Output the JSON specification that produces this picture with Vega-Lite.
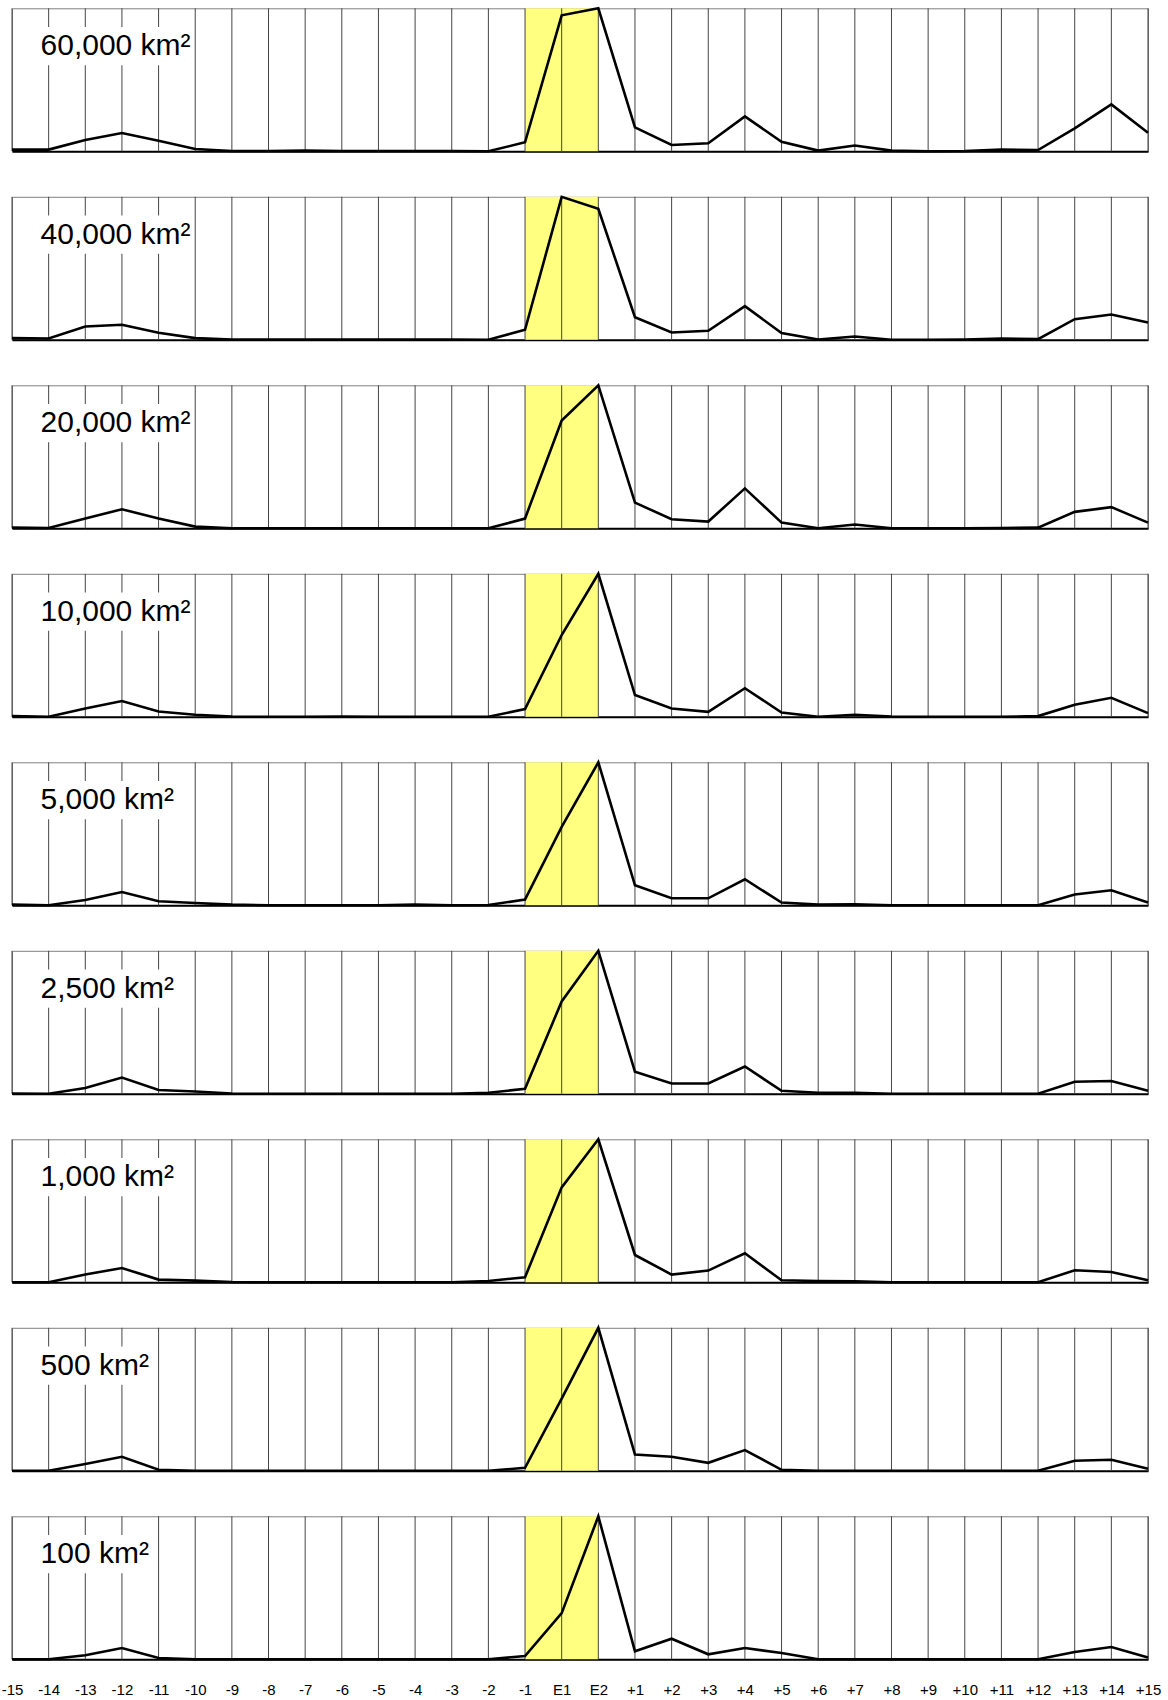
{
"$schema": "https://vega.github.io/schema/vega-lite/v6.json",
"background": "white",
"padding": {"left": 0, "top": 2.3, "right": 5, "bottom": 2},
"bounds": "flush",
"spacing": 45.5,
"data": {"values": [
{"p":"60,000 km²","s":"-15","i":0,"v":1.2},{"p":"60,000 km²","s":"-14","i":1,"v":1.2},{"p":"60,000 km²","s":"-13","i":2,"v":7.9},{"p":"60,000 km²","s":"-12","i":3,"v":12.8},{"p":"60,000 km²","s":"-11","i":4,"v":7.4},{"p":"60,000 km²","s":"-10","i":5,"v":1.6},{"p":"60,000 km²","s":"-9","i":6,"v":0.2},{"p":"60,000 km²","s":"-8","i":7,"v":0.2},{"p":"60,000 km²","s":"-7","i":8,"v":0.5},{"p":"60,000 km²","s":"-6","i":9,"v":0.2},{"p":"60,000 km²","s":"-5","i":10,"v":0.2},{"p":"60,000 km²","s":"-4","i":11,"v":0.2},{"p":"60,000 km²","s":"-3","i":12,"v":0.2},{"p":"60,000 km²","s":"-2","i":13,"v":0},{"p":"60,000 km²","s":"-1","i":14,"v":6.3},{"p":"60,000 km²","s":"E1","i":15,"v":95.1},{"p":"60,000 km²","s":"E2","i":16,"v":100},{"p":"60,000 km²","s":"+1","i":17,"v":16.7},{"p":"60,000 km²","s":"+2","i":18,"v":4.4},{"p":"60,000 km²","s":"+3","i":19,"v":5.6},{"p":"60,000 km²","s":"+4","i":20,"v":24.4},{"p":"60,000 km²","s":"+5","i":21,"v":6.7},{"p":"60,000 km²","s":"+6","i":22,"v":0.5},{"p":"60,000 km²","s":"+7","i":23,"v":4},{"p":"60,000 km²","s":"+8","i":24,"v":0.5},{"p":"60,000 km²","s":"+9","i":25,"v":0},{"p":"60,000 km²","s":"+10","i":26,"v":0.2},{"p":"60,000 km²","s":"+11","i":27,"v":1.2},{"p":"60,000 km²","s":"+12","i":28,"v":0.9},{"p":"60,000 km²","s":"+13","i":29,"v":16},{"p":"60,000 km²","s":"+14","i":30,"v":32.8},{"p":"60,000 km²","s":"+15","i":31,"v":13},
{"p":"40,000 km²","s":"-15","i":0,"v":1.2},{"p":"40,000 km²","s":"-14","i":1,"v":0.9},{"p":"40,000 km²","s":"-13","i":2,"v":9.3},{"p":"40,000 km²","s":"-12","i":3,"v":10.5},{"p":"40,000 km²","s":"-11","i":4,"v":4.9},{"p":"40,000 km²","s":"-10","i":5,"v":1.2},{"p":"40,000 km²","s":"-9","i":6,"v":0.2},{"p":"40,000 km²","s":"-8","i":7,"v":0.2},{"p":"40,000 km²","s":"-7","i":8,"v":0.2},{"p":"40,000 km²","s":"-6","i":9,"v":0.2},{"p":"40,000 km²","s":"-5","i":10,"v":0.2},{"p":"40,000 km²","s":"-4","i":11,"v":0.2},{"p":"40,000 km²","s":"-3","i":12,"v":0.2},{"p":"40,000 km²","s":"-2","i":13,"v":0},{"p":"40,000 km²","s":"-1","i":14,"v":7},{"p":"40,000 km²","s":"E1","i":15,"v":100},{"p":"40,000 km²","s":"E2","i":16,"v":91.6},{"p":"40,000 km²","s":"+1","i":17,"v":15.8},{"p":"40,000 km²","s":"+2","i":18,"v":5.1},{"p":"40,000 km²","s":"+3","i":19,"v":6.3},{"p":"40,000 km²","s":"+4","i":20,"v":23.5},{"p":"40,000 km²","s":"+5","i":21,"v":4.7},{"p":"40,000 km²","s":"+6","i":22,"v":0.2},{"p":"40,000 km²","s":"+7","i":23,"v":2.3},{"p":"40,000 km²","s":"+8","i":24,"v":0},{"p":"40,000 km²","s":"+9","i":25,"v":0},{"p":"40,000 km²","s":"+10","i":26,"v":0.2},{"p":"40,000 km²","s":"+11","i":27,"v":0.9},{"p":"40,000 km²","s":"+12","i":28,"v":0.5},{"p":"40,000 km²","s":"+13","i":29,"v":14.4},{"p":"40,000 km²","s":"+14","i":30,"v":17.7},{"p":"40,000 km²","s":"+15","i":31,"v":12.1},
{"p":"20,000 km²","s":"-15","i":0,"v":0.5},{"p":"20,000 km²","s":"-14","i":1,"v":0.2},{"p":"20,000 km²","s":"-13","i":2,"v":6.8},{"p":"20,000 km²","s":"-12","i":3,"v":13.3},{"p":"20,000 km²","s":"-11","i":4,"v":6.8},{"p":"20,000 km²","s":"-10","i":5,"v":1.2},{"p":"20,000 km²","s":"-9","i":6,"v":0},{"p":"20,000 km²","s":"-8","i":7,"v":0},{"p":"20,000 km²","s":"-7","i":8,"v":0},{"p":"20,000 km²","s":"-6","i":9,"v":0},{"p":"20,000 km²","s":"-5","i":10,"v":0},{"p":"20,000 km²","s":"-4","i":11,"v":0},{"p":"20,000 km²","s":"-3","i":12,"v":0},{"p":"20,000 km²","s":"-2","i":13,"v":0},{"p":"20,000 km²","s":"-1","i":14,"v":6.8},{"p":"20,000 km²","s":"E1","i":15,"v":75.4},{"p":"20,000 km²","s":"E2","i":16,"v":100},{"p":"20,000 km²","s":"+1","i":17,"v":18},{"p":"20,000 km²","s":"+2","i":18,"v":6.3},{"p":"20,000 km²","s":"+3","i":19,"v":4.7},{"p":"20,000 km²","s":"+4","i":20,"v":27.9},{"p":"20,000 km²","s":"+5","i":21,"v":4},{"p":"20,000 km²","s":"+6","i":22,"v":0},{"p":"20,000 km²","s":"+7","i":23,"v":2.6},{"p":"20,000 km²","s":"+8","i":24,"v":0},{"p":"20,000 km²","s":"+9","i":25,"v":0},{"p":"20,000 km²","s":"+10","i":26,"v":0},{"p":"20,000 km²","s":"+11","i":27,"v":0.2},{"p":"20,000 km²","s":"+12","i":28,"v":0.5},{"p":"20,000 km²","s":"+13","i":29,"v":11.5},{"p":"20,000 km²","s":"+14","i":30,"v":14.8},{"p":"20,000 km²","s":"+15","i":31,"v":4},
{"p":"10,000 km²","s":"-15","i":0,"v":0.5},{"p":"10,000 km²","s":"-14","i":1,"v":0},{"p":"10,000 km²","s":"-13","i":2,"v":5.8},{"p":"10,000 km²","s":"-12","i":3,"v":11},{"p":"10,000 km²","s":"-11","i":4,"v":3.7},{"p":"10,000 km²","s":"-10","i":5,"v":1.4},{"p":"10,000 km²","s":"-9","i":6,"v":0.2},{"p":"10,000 km²","s":"-8","i":7,"v":0},{"p":"10,000 km²","s":"-7","i":8,"v":0},{"p":"10,000 km²","s":"-6","i":9,"v":0.2},{"p":"10,000 km²","s":"-5","i":10,"v":0},{"p":"10,000 km²","s":"-4","i":11,"v":0},{"p":"10,000 km²","s":"-3","i":12,"v":0},{"p":"10,000 km²","s":"-2","i":13,"v":0},{"p":"10,000 km²","s":"-1","i":14,"v":5.4},{"p":"10,000 km²","s":"E1","i":15,"v":57.2},{"p":"10,000 km²","s":"E2","i":16,"v":100},{"p":"10,000 km²","s":"+1","i":17,"v":15.2},{"p":"10,000 km²","s":"+2","i":18,"v":5.8},{"p":"10,000 km²","s":"+3","i":19,"v":3.5},{"p":"10,000 km²","s":"+4","i":20,"v":20},{"p":"10,000 km²","s":"+5","i":21,"v":3},{"p":"10,000 km²","s":"+6","i":22,"v":0},{"p":"10,000 km²","s":"+7","i":23,"v":1.4},{"p":"10,000 km²","s":"+8","i":24,"v":0.2},{"p":"10,000 km²","s":"+9","i":25,"v":0},{"p":"10,000 km²","s":"+10","i":26,"v":0},{"p":"10,000 km²","s":"+11","i":27,"v":0},{"p":"10,000 km²","s":"+12","i":28,"v":0.5},{"p":"10,000 km²","s":"+13","i":29,"v":8.4},{"p":"10,000 km²","s":"+14","i":30,"v":13.3},{"p":"10,000 km²","s":"+15","i":31,"v":2.6},
{"p":"5,000 km²","s":"-15","i":0,"v":0.5},{"p":"5,000 km²","s":"-14","i":1,"v":0},{"p":"5,000 km²","s":"-13","i":2,"v":3.7},{"p":"5,000 km²","s":"-12","i":3,"v":9.3},{"p":"5,000 km²","s":"-11","i":4,"v":2.8},{"p":"5,000 km²","s":"-10","i":5,"v":1.6},{"p":"5,000 km²","s":"-9","i":6,"v":0.5},{"p":"5,000 km²","s":"-8","i":7,"v":0},{"p":"5,000 km²","s":"-7","i":8,"v":0},{"p":"5,000 km²","s":"-6","i":9,"v":0},{"p":"5,000 km²","s":"-5","i":10,"v":0},{"p":"5,000 km²","s":"-4","i":11,"v":0.5},{"p":"5,000 km²","s":"-3","i":12,"v":0},{"p":"5,000 km²","s":"-2","i":13,"v":0.2},{"p":"5,000 km²","s":"-1","i":14,"v":4},{"p":"5,000 km²","s":"E1","i":15,"v":54.9},{"p":"5,000 km²","s":"E2","i":16,"v":100},{"p":"5,000 km²","s":"+1","i":17,"v":14},{"p":"5,000 km²","s":"+2","i":18,"v":4.9},{"p":"5,000 km²","s":"+3","i":19,"v":4.9},{"p":"5,000 km²","s":"+4","i":20,"v":18.2},{"p":"5,000 km²","s":"+5","i":21,"v":1.9},{"p":"5,000 km²","s":"+6","i":22,"v":0.5},{"p":"5,000 km²","s":"+7","i":23,"v":0.7},{"p":"5,000 km²","s":"+8","i":24,"v":0},{"p":"5,000 km²","s":"+9","i":25,"v":0},{"p":"5,000 km²","s":"+10","i":26,"v":0},{"p":"5,000 km²","s":"+11","i":27,"v":0},{"p":"5,000 km²","s":"+12","i":28,"v":0},{"p":"5,000 km²","s":"+13","i":29,"v":7.5},{"p":"5,000 km²","s":"+14","i":30,"v":10.5},{"p":"5,000 km²","s":"+15","i":31,"v":1.9},
{"p":"2,500 km²","s":"-15","i":0,"v":0.2},{"p":"2,500 km²","s":"-14","i":1,"v":0},{"p":"2,500 km²","s":"-13","i":2,"v":4},{"p":"2,500 km²","s":"-12","i":3,"v":11.4},{"p":"2,500 km²","s":"-11","i":4,"v":2.6},{"p":"2,500 km²","s":"-10","i":5,"v":1.6},{"p":"2,500 km²","s":"-9","i":6,"v":0.2},{"p":"2,500 km²","s":"-8","i":7,"v":0},{"p":"2,500 km²","s":"-7","i":8,"v":0},{"p":"2,500 km²","s":"-6","i":9,"v":0},{"p":"2,500 km²","s":"-5","i":10,"v":0},{"p":"2,500 km²","s":"-4","i":11,"v":0},{"p":"2,500 km²","s":"-3","i":12,"v":0},{"p":"2,500 km²","s":"-2","i":13,"v":0.7},{"p":"2,500 km²","s":"-1","i":14,"v":3.5},{"p":"2,500 km²","s":"E1","i":15,"v":64.6},{"p":"2,500 km²","s":"E2","i":16,"v":100},{"p":"2,500 km²","s":"+1","i":17,"v":15.4},{"p":"2,500 km²","s":"+2","i":18,"v":7.2},{"p":"2,500 km²","s":"+3","i":19,"v":7.2},{"p":"2,500 km²","s":"+4","i":20,"v":19.1},{"p":"2,500 km²","s":"+5","i":21,"v":2.1},{"p":"2,500 km²","s":"+6","i":22,"v":0.7},{"p":"2,500 km²","s":"+7","i":23,"v":0.7},{"p":"2,500 km²","s":"+8","i":24,"v":0},{"p":"2,500 km²","s":"+9","i":25,"v":0},{"p":"2,500 km²","s":"+10","i":26,"v":0},{"p":"2,500 km²","s":"+11","i":27,"v":0},{"p":"2,500 km²","s":"+12","i":28,"v":0},{"p":"2,500 km²","s":"+13","i":29,"v":8.4},{"p":"2,500 km²","s":"+14","i":30,"v":8.9},{"p":"2,500 km²","s":"+15","i":31,"v":2.1},
{"p":"1,000 km²","s":"-15","i":0,"v":0},{"p":"1,000 km²","s":"-14","i":1,"v":0},{"p":"1,000 km²","s":"-13","i":2,"v":5.4},{"p":"1,000 km²","s":"-12","i":3,"v":10},{"p":"1,000 km²","s":"-11","i":4,"v":1.9},{"p":"1,000 km²","s":"-10","i":5,"v":1.2},{"p":"1,000 km²","s":"-9","i":6,"v":0.2},{"p":"1,000 km²","s":"-8","i":7,"v":0},{"p":"1,000 km²","s":"-7","i":8,"v":0},{"p":"1,000 km²","s":"-6","i":9,"v":0},{"p":"1,000 km²","s":"-5","i":10,"v":0},{"p":"1,000 km²","s":"-4","i":11,"v":0},{"p":"1,000 km²","s":"-3","i":12,"v":0},{"p":"1,000 km²","s":"-2","i":13,"v":0.9},{"p":"1,000 km²","s":"-1","i":14,"v":3.5},{"p":"1,000 km²","s":"E1","i":15,"v":66.4},{"p":"1,000 km²","s":"E2","i":16,"v":100},{"p":"1,000 km²","s":"+1","i":17,"v":19.1},{"p":"1,000 km²","s":"+2","i":18,"v":5.4},{"p":"1,000 km²","s":"+3","i":19,"v":8.2},{"p":"1,000 km²","s":"+4","i":20,"v":20.3},{"p":"1,000 km²","s":"+5","i":21,"v":1.4},{"p":"1,000 km²","s":"+6","i":22,"v":0.9},{"p":"1,000 km²","s":"+7","i":23,"v":0.7},{"p":"1,000 km²","s":"+8","i":24,"v":0},{"p":"1,000 km²","s":"+9","i":25,"v":0},{"p":"1,000 km²","s":"+10","i":26,"v":0},{"p":"1,000 km²","s":"+11","i":27,"v":0},{"p":"1,000 km²","s":"+12","i":28,"v":0},{"p":"1,000 km²","s":"+13","i":29,"v":8.4},{"p":"1,000 km²","s":"+14","i":30,"v":7.2},{"p":"1,000 km²","s":"+15","i":31,"v":1.4},
{"p":"500 km²","s":"-15","i":0,"v":0},{"p":"500 km²","s":"-14","i":1,"v":0},{"p":"500 km²","s":"-13","i":2,"v":4.7},{"p":"500 km²","s":"-12","i":3,"v":9.8},{"p":"500 km²","s":"-11","i":4,"v":0.7},{"p":"500 km²","s":"-10","i":5,"v":0},{"p":"500 km²","s":"-9","i":6,"v":0},{"p":"500 km²","s":"-8","i":7,"v":0},{"p":"500 km²","s":"-7","i":8,"v":0},{"p":"500 km²","s":"-6","i":9,"v":0},{"p":"500 km²","s":"-5","i":10,"v":0},{"p":"500 km²","s":"-4","i":11,"v":0},{"p":"500 km²","s":"-3","i":12,"v":0},{"p":"500 km²","s":"-2","i":13,"v":0},{"p":"500 km²","s":"-1","i":14,"v":2.1},{"p":"500 km²","s":"E1","i":15,"v":50.5},{"p":"500 km²","s":"E2","i":16,"v":100},{"p":"500 km²","s":"+1","i":17,"v":11.4},{"p":"500 km²","s":"+2","i":18,"v":9.8},{"p":"500 km²","s":"+3","i":19,"v":5.6},{"p":"500 km²","s":"+4","i":20,"v":14.5},{"p":"500 km²","s":"+5","i":21,"v":0.7},{"p":"500 km²","s":"+6","i":22,"v":0},{"p":"500 km²","s":"+7","i":23,"v":0},{"p":"500 km²","s":"+8","i":24,"v":0},{"p":"500 km²","s":"+9","i":25,"v":0},{"p":"500 km²","s":"+10","i":26,"v":0},{"p":"500 km²","s":"+11","i":27,"v":0},{"p":"500 km²","s":"+12","i":28,"v":0},{"p":"500 km²","s":"+13","i":29,"v":7},{"p":"500 km²","s":"+14","i":30,"v":7.7},{"p":"500 km²","s":"+15","i":31,"v":1.4},
{"p":"100 km²","s":"-15","i":0,"v":0},{"p":"100 km²","s":"-14","i":1,"v":0},{"p":"100 km²","s":"-13","i":2,"v":2.8},{"p":"100 km²","s":"-12","i":3,"v":7.9},{"p":"100 km²","s":"-11","i":4,"v":0.9},{"p":"100 km²","s":"-10","i":5,"v":0},{"p":"100 km²","s":"-9","i":6,"v":0},{"p":"100 km²","s":"-8","i":7,"v":0},{"p":"100 km²","s":"-7","i":8,"v":0},{"p":"100 km²","s":"-6","i":9,"v":0},{"p":"100 km²","s":"-5","i":10,"v":0},{"p":"100 km²","s":"-4","i":11,"v":0},{"p":"100 km²","s":"-3","i":12,"v":0},{"p":"100 km²","s":"-2","i":13,"v":0},{"p":"100 km²","s":"-1","i":14,"v":2.3},{"p":"100 km²","s":"E1","i":15,"v":32.3},{"p":"100 km²","s":"E2","i":16,"v":100},{"p":"100 km²","s":"+1","i":17,"v":5.6},{"p":"100 km²","s":"+2","i":18,"v":14.4},{"p":"100 km²","s":"+3","i":19,"v":3.5},{"p":"100 km²","s":"+4","i":20,"v":7.9},{"p":"100 km²","s":"+5","i":21,"v":4.4},{"p":"100 km²","s":"+6","i":22,"v":0},{"p":"100 km²","s":"+7","i":23,"v":0},{"p":"100 km²","s":"+8","i":24,"v":0},{"p":"100 km²","s":"+9","i":25,"v":0},{"p":"100 km²","s":"+10","i":26,"v":0},{"p":"100 km²","s":"+11","i":27,"v":0},{"p":"100 km²","s":"+12","i":28,"v":0},{"p":"100 km²","s":"+13","i":29,"v":5.1},{"p":"100 km²","s":"+14","i":30,"v":8.6},{"p":"100 km²","s":"+15","i":31,"v":1.2}
]},
"vconcat": [
{"width":1136,"height":143,"transform":[{"filter":"datum.p == '60,000 km²'"}],"layer":[
{"data":{"values":[{}]},"mark":{"type":"rect","color":"#ffff80"},"encoding":{"x":{"datum":14,"type":"quantitative","scale":{"domain":[0,31],"nice":false,"zero":false},"axis":{"title":null}},"x2":{"datum":16},"y":{"datum":0,"type":"quantitative","scale":{"domain":[0,100],"nice":false,"zero":false},"axis":null},"y2":{"datum":100}}},
{"mark":{"type":"rule","color":"#444","strokeWidth":1},"encoding":{"x":{"field":"i","type":"quantitative","scale":{"domain":[0,31],"nice":false,"zero":false},"axis":{"title":null}}}},
{"data":{"values":[{}]},"mark":{"type":"rect","color":"white"},"encoding":{"x":{"datum":0.67,"type":"quantitative","axis":{"title":null}},"x2":{"datum":4.93},"y":{"datum":60.1,"type":"quantitative","axis":null},"y2":{"datum":86.9}}},
{"transform":[{"filter":"datum.i == 0"}],"mark":{"type":"text","align":"left","baseline":"alphabetic","fontSize":30,"font":"Liberation Sans","color":"#000"},"encoding":{"x":{"datum":0.78,"type":"quantitative","axis":{"title":null}},"y":{"datum":67.2,"type":"quantitative","axis":null},"text":{"field":"p"}}},
{"mark":{"type":"line","color":"#000","strokeWidth":2.6},"encoding":{"x":{"field":"i","type":"quantitative","axis":{"title":null}},"y":{"field":"v","type":"quantitative","scale":{"domain":[0,100],"nice":false,"zero":false},"axis":null}}}
]},
{"width":1136,"height":143,"transform":[{"filter":"datum.p == '40,000 km²'"}],"layer":[
{"data":{"values":[{}]},"mark":{"type":"rect","color":"#ffff80"},"encoding":{"x":{"datum":14,"type":"quantitative","scale":{"domain":[0,31],"nice":false,"zero":false},"axis":{"title":null}},"x2":{"datum":16},"y":{"datum":0,"type":"quantitative","scale":{"domain":[0,100],"nice":false,"zero":false},"axis":null},"y2":{"datum":100}}},
{"mark":{"type":"rule","color":"#444","strokeWidth":1},"encoding":{"x":{"field":"i","type":"quantitative","scale":{"domain":[0,31],"nice":false,"zero":false},"axis":{"title":null}}}},
{"data":{"values":[{}]},"mark":{"type":"rect","color":"white"},"encoding":{"x":{"datum":0.67,"type":"quantitative","axis":{"title":null}},"x2":{"datum":4.93},"y":{"datum":60.1,"type":"quantitative","axis":null},"y2":{"datum":86.9}}},
{"transform":[{"filter":"datum.i == 0"}],"mark":{"type":"text","align":"left","baseline":"alphabetic","fontSize":30,"font":"Liberation Sans","color":"#000"},"encoding":{"x":{"datum":0.78,"type":"quantitative","axis":{"title":null}},"y":{"datum":67.2,"type":"quantitative","axis":null},"text":{"field":"p"}}},
{"mark":{"type":"line","color":"#000","strokeWidth":2.6},"encoding":{"x":{"field":"i","type":"quantitative","axis":{"title":null}},"y":{"field":"v","type":"quantitative","scale":{"domain":[0,100],"nice":false,"zero":false},"axis":null}}}
]},
{"width":1136,"height":143,"transform":[{"filter":"datum.p == '20,000 km²'"}],"layer":[
{"data":{"values":[{}]},"mark":{"type":"rect","color":"#ffff80"},"encoding":{"x":{"datum":14,"type":"quantitative","scale":{"domain":[0,31],"nice":false,"zero":false},"axis":{"title":null}},"x2":{"datum":16},"y":{"datum":0,"type":"quantitative","scale":{"domain":[0,100],"nice":false,"zero":false},"axis":null},"y2":{"datum":100}}},
{"mark":{"type":"rule","color":"#444","strokeWidth":1},"encoding":{"x":{"field":"i","type":"quantitative","scale":{"domain":[0,31],"nice":false,"zero":false},"axis":{"title":null}}}},
{"data":{"values":[{}]},"mark":{"type":"rect","color":"white"},"encoding":{"x":{"datum":0.67,"type":"quantitative","axis":{"title":null}},"x2":{"datum":4.93},"y":{"datum":60.1,"type":"quantitative","axis":null},"y2":{"datum":86.9}}},
{"transform":[{"filter":"datum.i == 0"}],"mark":{"type":"text","align":"left","baseline":"alphabetic","fontSize":30,"font":"Liberation Sans","color":"#000"},"encoding":{"x":{"datum":0.78,"type":"quantitative","axis":{"title":null}},"y":{"datum":67.2,"type":"quantitative","axis":null},"text":{"field":"p"}}},
{"mark":{"type":"line","color":"#000","strokeWidth":2.6},"encoding":{"x":{"field":"i","type":"quantitative","axis":{"title":null}},"y":{"field":"v","type":"quantitative","scale":{"domain":[0,100],"nice":false,"zero":false},"axis":null}}}
]},
{"width":1136,"height":143,"transform":[{"filter":"datum.p == '10,000 km²'"}],"layer":[
{"data":{"values":[{}]},"mark":{"type":"rect","color":"#ffff80"},"encoding":{"x":{"datum":14,"type":"quantitative","scale":{"domain":[0,31],"nice":false,"zero":false},"axis":{"title":null}},"x2":{"datum":16},"y":{"datum":0,"type":"quantitative","scale":{"domain":[0,100],"nice":false,"zero":false},"axis":null},"y2":{"datum":100}}},
{"mark":{"type":"rule","color":"#444","strokeWidth":1},"encoding":{"x":{"field":"i","type":"quantitative","scale":{"domain":[0,31],"nice":false,"zero":false},"axis":{"title":null}}}},
{"data":{"values":[{}]},"mark":{"type":"rect","color":"white"},"encoding":{"x":{"datum":0.67,"type":"quantitative","axis":{"title":null}},"x2":{"datum":4.93},"y":{"datum":60.1,"type":"quantitative","axis":null},"y2":{"datum":86.9}}},
{"transform":[{"filter":"datum.i == 0"}],"mark":{"type":"text","align":"left","baseline":"alphabetic","fontSize":30,"font":"Liberation Sans","color":"#000"},"encoding":{"x":{"datum":0.78,"type":"quantitative","axis":{"title":null}},"y":{"datum":67.2,"type":"quantitative","axis":null},"text":{"field":"p"}}},
{"mark":{"type":"line","color":"#000","strokeWidth":2.6},"encoding":{"x":{"field":"i","type":"quantitative","axis":{"title":null}},"y":{"field":"v","type":"quantitative","scale":{"domain":[0,100],"nice":false,"zero":false},"axis":null}}}
]},
{"width":1136,"height":143,"transform":[{"filter":"datum.p == '5,000 km²'"}],"layer":[
{"data":{"values":[{}]},"mark":{"type":"rect","color":"#ffff80"},"encoding":{"x":{"datum":14,"type":"quantitative","scale":{"domain":[0,31],"nice":false,"zero":false},"axis":{"title":null}},"x2":{"datum":16},"y":{"datum":0,"type":"quantitative","scale":{"domain":[0,100],"nice":false,"zero":false},"axis":null},"y2":{"datum":100}}},
{"mark":{"type":"rule","color":"#444","strokeWidth":1},"encoding":{"x":{"field":"i","type":"quantitative","scale":{"domain":[0,31],"nice":false,"zero":false},"axis":{"title":null}}}},
{"data":{"values":[{}]},"mark":{"type":"rect","color":"white"},"encoding":{"x":{"datum":0.67,"type":"quantitative","axis":{"title":null}},"x2":{"datum":4.53},"y":{"datum":60.1,"type":"quantitative","axis":null},"y2":{"datum":86.9}}},
{"transform":[{"filter":"datum.i == 0"}],"mark":{"type":"text","align":"left","baseline":"alphabetic","fontSize":30,"font":"Liberation Sans","color":"#000"},"encoding":{"x":{"datum":0.78,"type":"quantitative","axis":{"title":null}},"y":{"datum":67.2,"type":"quantitative","axis":null},"text":{"field":"p"}}},
{"mark":{"type":"line","color":"#000","strokeWidth":2.6},"encoding":{"x":{"field":"i","type":"quantitative","axis":{"title":null}},"y":{"field":"v","type":"quantitative","scale":{"domain":[0,100],"nice":false,"zero":false},"axis":null}}}
]},
{"width":1136,"height":143,"transform":[{"filter":"datum.p == '2,500 km²'"}],"layer":[
{"data":{"values":[{}]},"mark":{"type":"rect","color":"#ffff80"},"encoding":{"x":{"datum":14,"type":"quantitative","scale":{"domain":[0,31],"nice":false,"zero":false},"axis":{"title":null}},"x2":{"datum":16},"y":{"datum":0,"type":"quantitative","scale":{"domain":[0,100],"nice":false,"zero":false},"axis":null},"y2":{"datum":100}}},
{"mark":{"type":"rule","color":"#444","strokeWidth":1},"encoding":{"x":{"field":"i","type":"quantitative","scale":{"domain":[0,31],"nice":false,"zero":false},"axis":{"title":null}}}},
{"data":{"values":[{}]},"mark":{"type":"rect","color":"white"},"encoding":{"x":{"datum":0.67,"type":"quantitative","axis":{"title":null}},"x2":{"datum":4.53},"y":{"datum":60.1,"type":"quantitative","axis":null},"y2":{"datum":86.9}}},
{"transform":[{"filter":"datum.i == 0"}],"mark":{"type":"text","align":"left","baseline":"alphabetic","fontSize":30,"font":"Liberation Sans","color":"#000"},"encoding":{"x":{"datum":0.78,"type":"quantitative","axis":{"title":null}},"y":{"datum":67.2,"type":"quantitative","axis":null},"text":{"field":"p"}}},
{"mark":{"type":"line","color":"#000","strokeWidth":2.6},"encoding":{"x":{"field":"i","type":"quantitative","axis":{"title":null}},"y":{"field":"v","type":"quantitative","scale":{"domain":[0,100],"nice":false,"zero":false},"axis":null}}}
]},
{"width":1136,"height":143,"transform":[{"filter":"datum.p == '1,000 km²'"}],"layer":[
{"data":{"values":[{}]},"mark":{"type":"rect","color":"#ffff80"},"encoding":{"x":{"datum":14,"type":"quantitative","scale":{"domain":[0,31],"nice":false,"zero":false},"axis":{"title":null}},"x2":{"datum":16},"y":{"datum":0,"type":"quantitative","scale":{"domain":[0,100],"nice":false,"zero":false},"axis":null},"y2":{"datum":100}}},
{"mark":{"type":"rule","color":"#444","strokeWidth":1},"encoding":{"x":{"field":"i","type":"quantitative","scale":{"domain":[0,31],"nice":false,"zero":false},"axis":{"title":null}}}},
{"data":{"values":[{}]},"mark":{"type":"rect","color":"white"},"encoding":{"x":{"datum":0.67,"type":"quantitative","axis":{"title":null}},"x2":{"datum":4.53},"y":{"datum":60.1,"type":"quantitative","axis":null},"y2":{"datum":86.9}}},
{"transform":[{"filter":"datum.i == 0"}],"mark":{"type":"text","align":"left","baseline":"alphabetic","fontSize":30,"font":"Liberation Sans","color":"#000"},"encoding":{"x":{"datum":0.78,"type":"quantitative","axis":{"title":null}},"y":{"datum":67.2,"type":"quantitative","axis":null},"text":{"field":"p"}}},
{"mark":{"type":"line","color":"#000","strokeWidth":2.6},"encoding":{"x":{"field":"i","type":"quantitative","axis":{"title":null}},"y":{"field":"v","type":"quantitative","scale":{"domain":[0,100],"nice":false,"zero":false},"axis":null}}}
]},
{"width":1136,"height":143,"transform":[{"filter":"datum.p == '500 km²'"}],"layer":[
{"data":{"values":[{}]},"mark":{"type":"rect","color":"#ffff80"},"encoding":{"x":{"datum":14,"type":"quantitative","scale":{"domain":[0,31],"nice":false,"zero":false},"axis":{"title":null}},"x2":{"datum":16},"y":{"datum":0,"type":"quantitative","scale":{"domain":[0,100],"nice":false,"zero":false},"axis":null},"y2":{"datum":100}}},
{"mark":{"type":"rule","color":"#444","strokeWidth":1},"encoding":{"x":{"field":"i","type":"quantitative","scale":{"domain":[0,31],"nice":false,"zero":false},"axis":{"title":null}}}},
{"data":{"values":[{}]},"mark":{"type":"rect","color":"white"},"encoding":{"x":{"datum":0.67,"type":"quantitative","axis":{"title":null}},"x2":{"datum":3.85},"y":{"datum":60.1,"type":"quantitative","axis":null},"y2":{"datum":86.9}}},
{"transform":[{"filter":"datum.i == 0"}],"mark":{"type":"text","align":"left","baseline":"alphabetic","fontSize":30,"font":"Liberation Sans","color":"#000"},"encoding":{"x":{"datum":0.78,"type":"quantitative","axis":{"title":null}},"y":{"datum":67.2,"type":"quantitative","axis":null},"text":{"field":"p"}}},
{"mark":{"type":"line","color":"#000","strokeWidth":2.6},"encoding":{"x":{"field":"i","type":"quantitative","axis":{"title":null}},"y":{"field":"v","type":"quantitative","scale":{"domain":[0,100],"nice":false,"zero":false},"axis":null}}}
]},
{"width":1136,"height":143,"transform":[{"filter":"datum.p == '100 km²'"}],"layer":[
{"data":{"values":[{}]},"mark":{"type":"rect","color":"#ffff80"},"encoding":{"x":{"datum":14,"type":"quantitative","scale":{"domain":[0,31],"nice":false,"zero":false},"axis":{"title":null,"labels":true,"values":[0,1,2,3,4,5,6,7,8,9,10,11,12,13,14,15,16,17,18,19,20,21,22,23,24,25,26,27,28,29,30,31],"labelExpr":"['-15','-14','-13','-12','-11','-10','-9','-8','-7','-6','-5','-4','-3','-2','-1','E1','E2','+1','+2','+3','+4','+5','+6','+7','+8','+9','+10','+11','+12','+13','+14','+15'][datum.value]"}},"x2":{"datum":16},"y":{"datum":0,"type":"quantitative","scale":{"domain":[0,100],"nice":false,"zero":false},"axis":null},"y2":{"datum":100}}},
{"mark":{"type":"rule","color":"#444","strokeWidth":1},"encoding":{"x":{"field":"i","type":"quantitative","scale":{"domain":[0,31],"nice":false,"zero":false},"axis":{"title":null,"labels":true,"values":[0,1,2,3,4,5,6,7,8,9,10,11,12,13,14,15,16,17,18,19,20,21,22,23,24,25,26,27,28,29,30,31],"labelExpr":"['-15','-14','-13','-12','-11','-10','-9','-8','-7','-6','-5','-4','-3','-2','-1','E1','E2','+1','+2','+3','+4','+5','+6','+7','+8','+9','+10','+11','+12','+13','+14','+15'][datum.value]"}}}},
{"data":{"values":[{}]},"mark":{"type":"rect","color":"white"},"encoding":{"x":{"datum":0.67,"type":"quantitative","axis":{"title":null,"labels":true,"values":[0,1,2,3,4,5,6,7,8,9,10,11,12,13,14,15,16,17,18,19,20,21,22,23,24,25,26,27,28,29,30,31],"labelExpr":"['-15','-14','-13','-12','-11','-10','-9','-8','-7','-6','-5','-4','-3','-2','-1','E1','E2','+1','+2','+3','+4','+5','+6','+7','+8','+9','+10','+11','+12','+13','+14','+15'][datum.value]"}},"x2":{"datum":3.85},"y":{"datum":60.1,"type":"quantitative","axis":null},"y2":{"datum":86.9}}},
{"transform":[{"filter":"datum.i == 0"}],"mark":{"type":"text","align":"left","baseline":"alphabetic","fontSize":30,"font":"Liberation Sans","color":"#000"},"encoding":{"x":{"datum":0.78,"type":"quantitative","axis":{"title":null,"labels":true,"values":[0,1,2,3,4,5,6,7,8,9,10,11,12,13,14,15,16,17,18,19,20,21,22,23,24,25,26,27,28,29,30,31],"labelExpr":"['-15','-14','-13','-12','-11','-10','-9','-8','-7','-6','-5','-4','-3','-2','-1','E1','E2','+1','+2','+3','+4','+5','+6','+7','+8','+9','+10','+11','+12','+13','+14','+15'][datum.value]"}},"y":{"datum":67.2,"type":"quantitative","axis":null},"text":{"field":"p"}}},
{"mark":{"type":"line","color":"#000","strokeWidth":2.6},"encoding":{"x":{"field":"i","type":"quantitative","axis":{"title":null,"labels":true,"values":[0,1,2,3,4,5,6,7,8,9,10,11,12,13,14,15,16,17,18,19,20,21,22,23,24,25,26,27,28,29,30,31],"labelExpr":"['-15','-14','-13','-12','-11','-10','-9','-8','-7','-6','-5','-4','-3','-2','-1','E1','E2','+1','+2','+3','+4','+5','+6','+7','+8','+9','+10','+11','+12','+13','+14','+15'][datum.value]"}},"y":{"field":"v","type":"quantitative","scale":{"domain":[0,100],"nice":false,"zero":false},"axis":null}}}
]}
],
"config": {
"view": {"stroke": "#808080", "strokeWidth": 1},
"axisX": {"grid": false, "ticks": false, "labels": false, "domain": true, "domainColor": "#000", "domainWidth": 2, "zindex": 1, "labelFont": "Liberation Sans", "labelFontSize": 15, "labelColor": "#000", "labelPadding": 23, "labelOverlap": false, "labelFlush": false}
}
}
